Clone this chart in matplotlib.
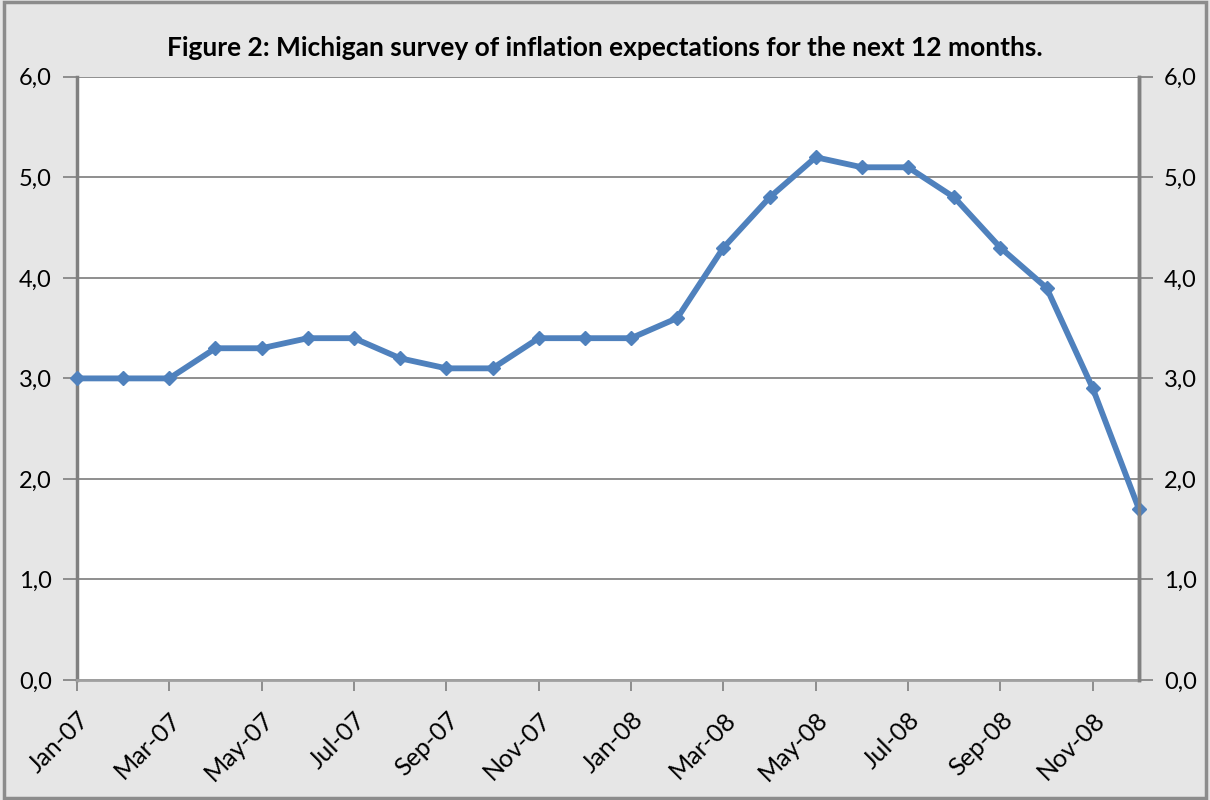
import matplotlib
matplotlib.use("Agg")
import matplotlib.pyplot as plt
from matplotlib.ticker import FuncFormatter
from matplotlib.patches import Rectangle

months = ["Jan-07", "Feb-07", "Mar-07", "Apr-07", "May-07", "Jun-07", "Jul-07", "Aug-07",
          "Sep-07", "Oct-07", "Nov-07", "Dec-07", "Jan-08", "Feb-08", "Mar-08", "Apr-08",
          "May-08", "Jun-08", "Jul-08", "Aug-08", "Sep-08", "Oct-08", "Nov-08", "Dec-08"]
values = [3.0, 3.0, 3.0, 3.3, 3.3, 3.4, 3.4, 3.2, 3.1, 3.1, 3.4, 3.4,
          3.4, 3.6, 4.3, 4.8, 5.2, 5.1, 5.1, 4.8, 4.3, 3.9, 2.9, 1.7]
yticks = [0, 1, 2, 3, 4, 5, 6]
title = "Figure 2: Michigan survey of inflation expectations for the next 12 months."

plt.rcParams['font.family'] = ['Lato', 'DejaVu Sans']

fig = plt.figure(figsize=(12.1, 8), dpi=100)
fig.patch.set_facecolor("#e6e6e6")
fig.patches.append(Rectangle((0.003, 0.003), 0.994, 0.994, transform=fig.transFigure,
                             fill=False, edgecolor="#8c8c8c", linewidth=2.5))

ax = fig.add_axes([0.0636, 0.15, 0.8777, 0.754])
ax.set_facecolor("white")
x = list(range(len(values)))
ax.plot(x, values, color="#4f81bd", linewidth=4.2, marker="D", markersize=7,
        markerfacecolor="#4f81bd", markeredgecolor="#4f81bd", zorder=5, clip_on=False)
ax.set_xlim(0, len(values) - 1)
ax.set_ylim(0, 6)
ax.set_yticks(yticks)
ax.yaxis.set_major_formatter(FuncFormatter(lambda v, p: f"{v:.1f}".replace(".", ",")))
ax.grid(axis="y", color="#868686", linewidth=1.3)
ax.set_axisbelow(True)
ax.set_xticks(x[::2])
ax.set_xticklabels(months[::2], rotation=45, ha="right", rotation_mode="anchor")
for s in ["left", "right"]:
    ax.spines[s].set_color("#808080")
    ax.spines[s].set_linewidth(2.5)
ax.spines["top"].set_visible(False)
ax.spines["bottom"].set_color("#a0a0a0")
ax.spines["bottom"].set_linewidth(2)
ax.tick_params(axis="y", length=10, width=1.3, color="#868686", labelsize=17, pad=8)
ax.tick_params(axis="x", length=8, width=1.3, color="#868686", labelsize=18, pad=12)

ax2 = ax.twinx()
ax2.set_ylim(0, 6)
ax2.set_yticks(yticks)
ax2.yaxis.set_major_formatter(FuncFormatter(lambda v, p: f"{v:.1f}".replace(".", ",")))
ax2.tick_params(axis="y", length=10, width=1.3, color="#868686", labelsize=17, pad=8)
for s in ["top", "left", "bottom"]:
    ax2.spines[s].set_visible(False)
ax2.spines["right"].set_color("#808080")
ax2.spines["right"].set_linewidth(2.5)

fig.text(0.5, 0.94, title, ha="center", va="center", fontsize=19, fontweight="bold")

fig.savefig("out.png", dpi=100, facecolor=fig.get_facecolor())
